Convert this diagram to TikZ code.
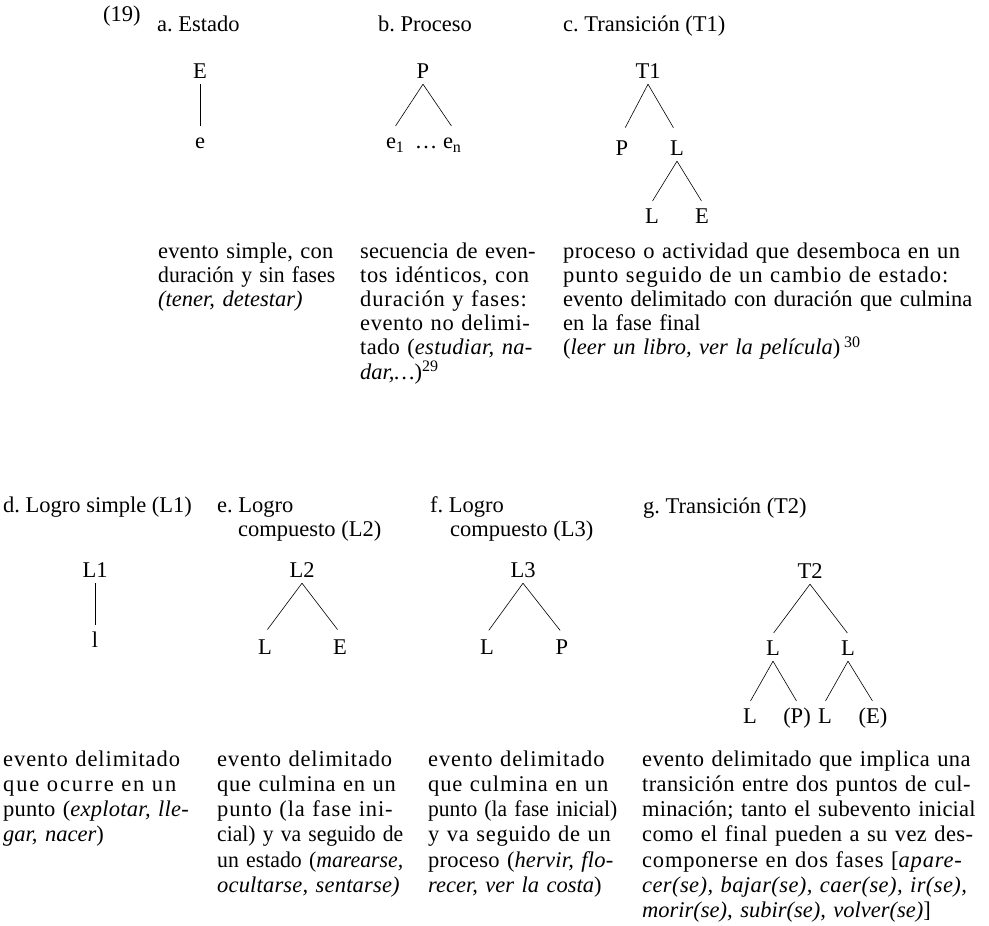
\documentclass[tikz,border=0pt]{standalone}
\usepackage{fontspec}
\setmainfont{Liberation Serif}
\usepackage{graphicx}
\frenchspacing
\newdimen\jla \newdimen\jlb \newdimen\jlw
\newcommand\jl[2]{\jlw=#1\relax\setbox0=\hbox{#2}\jla=\wd0\relax
  \ifdim\jla>\jlw \resizebox{\jlw}{\height}{#2}%
  \else\setbox2=\hbox{\addfontfeature{LetterSpace=10}#2}\jlb=\wd2\relax
    \pgfmathsetmacro\jlls{5*(\jlw-\jla)/(\jlb-\jla)}%
    \makebox[\jlw][s]{\addfontfeature{LetterSpace=\jlls}#2}\fi}
\newcommand\sups[1]{\raisebox{0.32em}{\fontsize{16}{16}\selectfont #1}}
\newcommand\subs[1]{\raisebox{-0.22em}{\fontsize{16}{16}\selectfont #1}}
\tikzset{
  lab/.style={inner xsep=0pt, inner ysep=6pt, text height=15pt, text depth=0pt, anchor=base},
  hd/.style={inner sep=0pt, anchor=base west},
  desc/.style={inner sep=0pt, anchor=base west},
  br/.style={line width=0.6pt, shorten >=1pt},
}
\begin{document}
\begin{tikzpicture}[x=1pt,y=-1pt,font=\fontsize{22.5}{24.2}\selectfont]
\fill[white] (0,0) rectangle (989,926);
\useasboundingbox (0,0) rectangle (989,926);

% headers top
\node[hd] (n19) at (103,21) {(19)};
\node[hd] (ha) at (157,31) {a. Estado};
\node[hd] (hb) at (378,31) {b. Proceso};
\node[hd] (hc) at (563,31) {c. Transición (T1)};

% tree a
\node[lab] (aE) at (200,78) {E};
\node[lab] (ae) at (200,148) {e};
\draw[br] (aE) -- (ae);

% tree b
\node[lab] (bP) at (423,78) {P};
\node[lab] (be1) at (395,148) {e\subs{1}};
\node[lab] (bdots) at (426,148) {…};
\node[lab] (ben) at (452,148) {e\subs{n}};
\draw[br] (bP.south) -- (be1.north);
\draw[br] (bP.south) -- (ben.north);

% tree c
\node[lab] (cT) at (648,78) {T1};
\node[lab] (cP) at (622,155) {P};
\node[lab] (cL) at (677,155) {L};
\node[lab] (cLL) at (652,223) {L};
\node[lab] (cE) at (702,223) {E};
\draw[br, shorten >=7pt] (cT.south) -- (cP.north);
\draw[br, shorten >=7pt] (cT.south) -- (cL.north);
\draw[br] (cL.south) -- (cLL.north);
\draw[br] (cL.south) -- (cE.north);

% descriptions top
\begin{scope}[font=\fontsize{22.5}{24.2}\selectfont]
\node[desc, text width=177pt] (da) at (158,258) {\jl{177pt}{evento simple, con}\\
\jl{177pt}{duración y sin fases}\\
\textit{(tener, detestar)}};
\node[desc, text width=177pt] (db) at (360,258) {\jl{177pt}{secuencia de even-}\\
\jl{177pt}{tos idénticos, con}\\
\jl{177pt}{duración y fases:}\\
\jl{177pt}{evento no delimi-}\\
\jl{177pt}{tado (\textit{estudiar, na-}}\\
\textit{dar,…})\sups{29}};
\node[desc, text width=409pt] (dc) at (563,258) {\jl{409pt}{proceso o actividad que desemboca en un}\\
\jl{409pt}{punto seguido de un cambio de estado:}\\
\jl{409pt}{evento delimitado con duración que culmina}\\
en la fase final\\
(\textit{leer un libro, ver la película})\,\sups{30}};
\end{scope}

% headers bottom
\node[hd] (hd1) at (3,512) {d. Logro simple (L1)};
\node[hd] (he1) at (217,512) {e. Logro};
\node[hd] (he2) at (238,536) {compuesto (L2)};
\node[hd] (hf1) at (430,512) {f. Logro};
\node[hd] (hf2) at (450,536) {compuesto (L3)};
\node[hd] (hg) at (643,513) {g. Transición (T2)};

% tree d
\node[lab] (dL) at (95,577) {L1};
\node[lab] (dl) at (95,647) {l};
\draw[br] (dL) -- (dl);

% tree e
\node[lab] (eL) at (302,577) {L2};
\node[lab] (eLL) at (265,654) {L};
\node[lab] (eE) at (340,654) {E};
\draw[br, shorten >=4pt] (eL.south) -- (eLL.north);
\draw[br, shorten >=4pt] (eL.south) -- (eE.north);

% tree f
\node[lab] (fL) at (523,577) {L3};
\node[lab] (fLL) at (487,654) {L};
\node[lab] (fP) at (562,654) {P};
\draw[br, shorten >=3pt] (fL.south) -- (fLL.north);
\draw[br, shorten >=3pt] (fL.south) -- (fP.north);

% tree g
\node[lab] (gT) at (810,578) {T2};
\node[lab] (gL1) at (773,655) {L};
\node[lab] (gL2) at (848,655) {L};
\node[lab] (gL1a) at (750,723) {L};
\node[lab] (gL1b) at (797,723) {(P)};
\node[lab] (gL2a) at (825,723) {L};
\node[lab] (gL2b) at (873,723) {(E)};
\draw[br] (gT.south) -- (gL1.north);
\draw[br] (gT.south) -- (gL2.north);
\draw[br] (gL1.south) -- (gL1a.north);
\draw[br] (gL1.south) -- (gL1b.north);
\draw[br] (gL2.south) -- (gL2a.north);
\draw[br] (gL2.south) -- (gL2b.north);

% descriptions bottom
\begin{scope}[font=\fontsize{22.5}{25.3}\selectfont]
\node[desc, text width=190pt] (dd) at (3,766) {\jl{190pt}{evento delimitado}\\
\jl{190pt}{que ocurre en un}\\
\jl{190pt}{punto (\textit{explotar, lle-}}\\
\textit{gar, nacer})};
\node[desc, text width=186pt] (de) at (217,766) {\jl{186pt}{evento delimitado}\\
\jl{186pt}{que culmina en un}\\
\jl{186pt}{punto (la fase ini-}\\
\jl{186pt}{cial) y va seguido de}\\
\jl{186pt}{un estado (\textit{marearse,}}\\
\jl{186pt}{\textit{ocultarse, sentarse)}}};
\node[desc, text width=189pt] (df) at (428,766) {\jl{189pt}{evento delimitado}\\
\jl{189pt}{que culmina en un}\\
\jl{189pt}{punto (la fase inicial)}\\
\jl{189pt}{y va seguido de un}\\
\jl{189pt}{proceso (\textit{hervir, flo-}}\\
\textit{recer, ver la costa})};
\node[desc, text width=338pt] (dg) at (642,766) {\jl{338pt}{evento delimitado que implica una}\\
\jl{338pt}{transición entre dos puntos de cul-}\\
\jl{338pt}{minación; tanto el subevento inicial}\\
\jl{338pt}{como el final pueden a su vez des-}\\
\jl{338pt}{componerse en dos fases [\textit{apare-}}\\
\jl{338pt}{\textit{cer(se), bajar(se), caer(se), ir(se),}}\\
\textit{morir(se), subir(se), volver(se)}]};
\end{scope}
\end{tikzpicture}
\end{document}
